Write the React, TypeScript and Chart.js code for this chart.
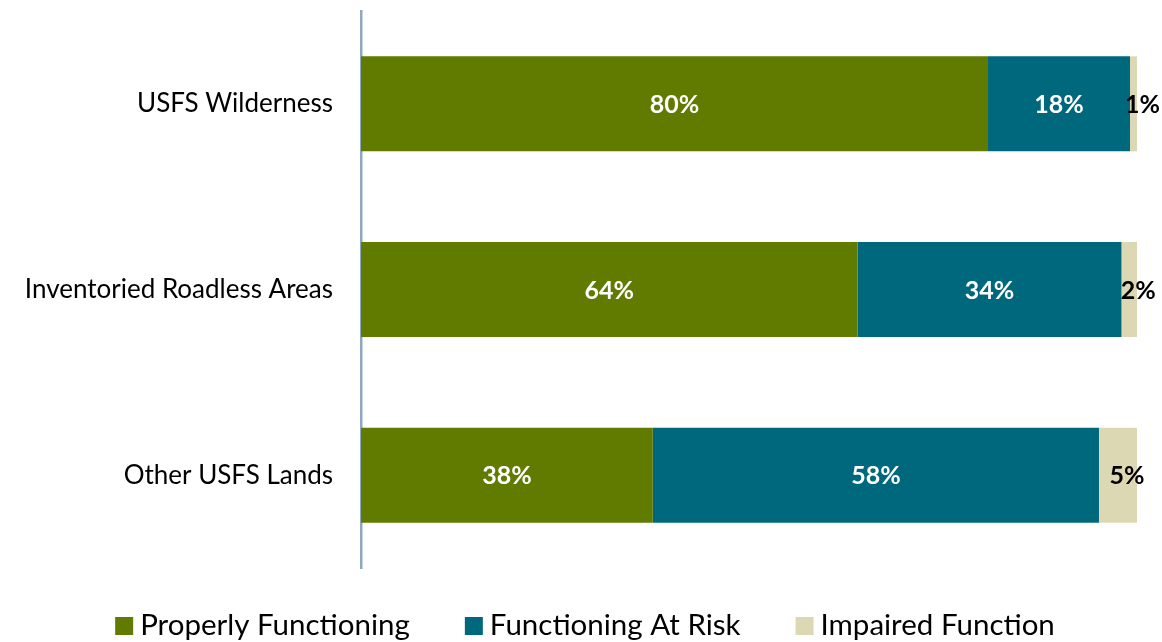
import React, { useEffect, useRef } from "react";
import { Chart, registerables } from "chart.js";

Chart.register(...registerables);

const categories = ["USFS Wilderness", "Inventoried Roadless Areas", "Other USFS Lands"];
const properlyFunctioning = [80.8, 64.0, 37.6];
const functioningAtRisk = [18.3, 34.0, 57.5];
const impairedFunction = [0.9, 2.0, 4.9];
const displayLabels = [
  ["80%", "64%", "38%"],
  ["18%", "34%", "58%"],
  ["1%", "2%", "5%"],
];
const seriesNames = ["Properly Functioning", "Functioning At Risk", "Impaired Function"];
const colors = ["#617a00", "#00687c", "#ddd8b4"];
const labelColors = ["#ffffff", "#ffffff", "#000000"];

const FONT = "Lato, 'Open Sans', sans-serif";

const labelPlugin = {
  id: "segLabels",
  afterDatasetsDraw(chart: any) {
    const ctx = chart.ctx;
    ctx.save();
    ctx.font = `bold 25px ${FONT}`;
    ctx.textAlign = "center";
    ctx.textBaseline = "middle";
    chart.data.datasets.forEach((ds: any, di: number) => {
      const meta = chart.getDatasetMeta(di);
      meta.data.forEach((bar: any, i: number) => {
        let cx = (bar.base + bar.x) / 2;
        if (di === 2) cx += 9;
        ctx.fillStyle = labelColors[di];
        ctx.fillText(displayLabels[di][i], cx, bar.y + 1);
      });
    });
    ctx.restore();
  },
};

const legendPlugin = {
  id: "customLegend",
  afterDraw(chart: any) {
    const ctx = chart.ctx;
    ctx.save();
    ctx.font = `29.5px ${FONT}`;
    const box = 18;
    const gapText = 7;
    const gapItem = 55;
    const widths = seriesNames.map((n) => box + gapText + ctx.measureText(n).width);
    const total = widths.reduce((a, b) => a + b, 0) + gapItem * (seriesNames.length - 1);
    let x = chart.width / 2 + 4 - total / 2;
    const boxTop = 617;
    const baseline = 635;
    seriesNames.forEach((n, i) => {
      ctx.fillStyle = colors[i];
      ctx.fillRect(x, boxTop, box, box);
      ctx.fillStyle = "#000000";
      ctx.textAlign = "left";
      ctx.textBaseline = "alphabetic";
      ctx.fillText(n, x + box + gapText, baseline);
      x += widths[i] + gapItem;
    });
    ctx.restore();
  },
};

export default function App() {
  const ref = useRef<HTMLCanvasElement | null>(null);
  useEffect(() => {
    if (!ref.current) return;
    const chart = new Chart(ref.current, {
      type: "bar",
      data: {
        labels: categories,
        datasets: [properlyFunctioning, functioningAtRisk, impairedFunction].map((d, i) => ({
          label: seriesNames[i],
          data: d,
          backgroundColor: colors[i],
          borderWidth: 0,
          categoryPercentage: 1,
          barPercentage: 0.512,
        })),
      },
      options: {
        indexAxis: "y",
        animation: false,
        responsive: false,
        maintainAspectRatio: false,
        layout: { padding: { top: 11, right: 25, left: 0, bottom: 74 } },
        scales: {
          x: {
            stacked: true,
            min: 0,
            max: 100,
            display: false,
          },
          y: {
            stacked: true,
            afterFit(scale: any) {
              scale.width = 361;
            },
            grid: { display: false, drawTicks: true, tickLength: 28 },
            border: { display: true, color: "#8fa8c0", width: 2.5 },
            ticks: {
              color: "#000000",
              font: { family: FONT, size: 26, lineHeight: 0.8 },
              padding: 0,
            },
          },
        },
        plugins: {
          legend: { display: false },
          tooltip: { enabled: false },
        },
      },
      plugins: [labelPlugin, legendPlugin],
    });
    return () => chart.destroy();
  }, []);
  return (
    <div style={{ position: "fixed", left: 0, top: 0, width: 1162, height: 642, background: "#fff" }}>
      <canvas ref={ref} width={1162} height={642} style={{ width: 1162, height: 642 }} />
    </div>
  );
}
